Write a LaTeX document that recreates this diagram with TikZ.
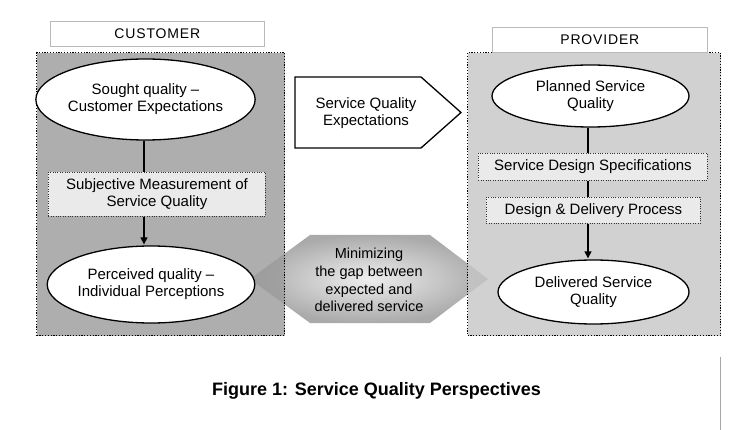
\documentclass[tikz,border=0pt]{standalone}
\usepackage{fontspec}
\setmainfont{Liberation Sans}
\usetikzlibrary{shapes.geometric,arrows.meta}
\definecolor{custpanel}{RGB}{154,154,154}
\definecolor{provpanel}{RGB}{198,198,198}
\definecolor{innerbox}{RGB}{234,234,234}
\definecolor{hdrline}{RGB}{185,185,185}
\definecolor{gapouter}{RGB}{170,170,170}
\definecolor{gapinner}{RGB}{238,238,238}
\tikzset{
  panel/.style={draw=black, line width=1.2pt, dash pattern=on 1.2pt off 1.6pt, anchor=north west, inner sep=0pt},
  hdr/.style={draw=hdrline, line width=0.7pt, anchor=north west, inner sep=0pt, font=\fontsize{14}{16}\selectfont\addfontfeature{LetterSpace=6}},
  ell/.style={ellipse, draw=black, line width=1.3pt, fill=white, inner sep=0pt, align=center, font=\fontsize{15}{17}\selectfont},
  ibox/.style={draw=black!80, fill=innerbox, line width=0.9pt, dash pattern=on 1pt off 1.4pt, anchor=north west, inner sep=0pt, align=center, font=\fontsize{15}{17}\selectfont},
  lbl/.style={align=center, inner sep=0pt},
  conn/.style={line width=1.2pt, draw=black},
  arr/.style={conn, -{Triangle[length=7pt,width=7pt]}}
}
\begin{document}
\begin{tikzpicture}[x=1pt,y=-1pt]
\useasboundingbox (0,0) rectangle (744,430);

% gap hexagon (behind the panels)
\shade[inner color=gapinner, outer color=gapouter]
  (250,279) -- (310,235) -- (430,235) -- (488,279) -- (430,323) -- (310,323) -- cycle;

% panels
\node[panel, fill=custpanel, fill opacity=0.8, minimum width=248pt, minimum height=283pt] (cpanel) at (36,52) {};
\node[panel, fill=provpanel, fill opacity=0.8, minimum width=253pt, minimum height=283pt] (ppanel) at (467,52) {};

% headers
\node[hdr, minimum width=214pt, minimum height=25pt] (chdr) at (50,21) {CUSTOMER};
\node[hdr, minimum width=215pt, minimum height=25pt] (phdr) at (492,27) {PROVIDER};

% gap text
\node[lbl, font=\fontsize{14.5}{17.8}\selectfont] (gap) at (369,280) {Minimizing\\the gap between\\expected and\\delivered service};

% customer side
\node[ell, minimum width=188pt, minimum height=81pt] (sought) at (145.5,99.5) {Sought quality –\\Customer Expectations};
\node[ibox, minimum width=217pt, minimum height=44pt] (subj) at (48,172) {Subjective Measurement of\\Service Quality};
\node[ell, minimum width=188pt, minimum height=77pt] (perc) at (151,284.5) {Perceived quality –\\Individual Perceptions};

\draw[conn] (sought.south -| 144,0) -- (subj.north -| 144,0);
\draw[arr] (subj.south -| 144,0) -- ([yshift=1pt]perc.north -| 144,0);

% expectations arrow
\draw[line width=1.3pt, fill=white, line join=miter]
  (295,77) -- (421,77) -- (461,112.5) -- (421,148) -- (295,148) -- cycle;
\node[lbl, font=\fontsize{15}{17}\selectfont] (sqe) at (366,113) {Service Quality\\Expectations};

% provider side
\node[ell, minimum width=197pt, minimum height=62pt] (plan) at (590.5,96) {Planned Service\\Quality};
\node[ibox, minimum width=229pt, minimum height=27pt] (sds) at (478,153) {Service Design Specifications};
\node[ibox, minimum width=214pt, minimum height=26pt] (ddp) at (486,197) {Design \& Delivery Process};
\node[ell, minimum width=191pt, minimum height=64pt] (deliv) at (593.5,292) {Delivered Service\\Quality};

\draw[conn] (plan.south -| 588,0) -- (sds.north -| 588,0);
\draw[conn] (sds.south -| 588,0) -- (ddp.north -| 588,0);
\draw[arr] (ddp.south -| 588,0) -- ([yshift=1pt]deliv.north -| 588,0);

% caption
\node[anchor=base, inner sep=0pt, font=\fontsize{18}{20}\selectfont\bfseries] (cap) at (376.5,395) {Figure 1: Service Quality Perspectives};

% right rule
\coordinate (r1) at (720,357);
\coordinate (r2) at (720,430);
\draw[draw=black!35, line width=0.8pt] (r1) -- (r2);
\end{tikzpicture}
\end{document}
